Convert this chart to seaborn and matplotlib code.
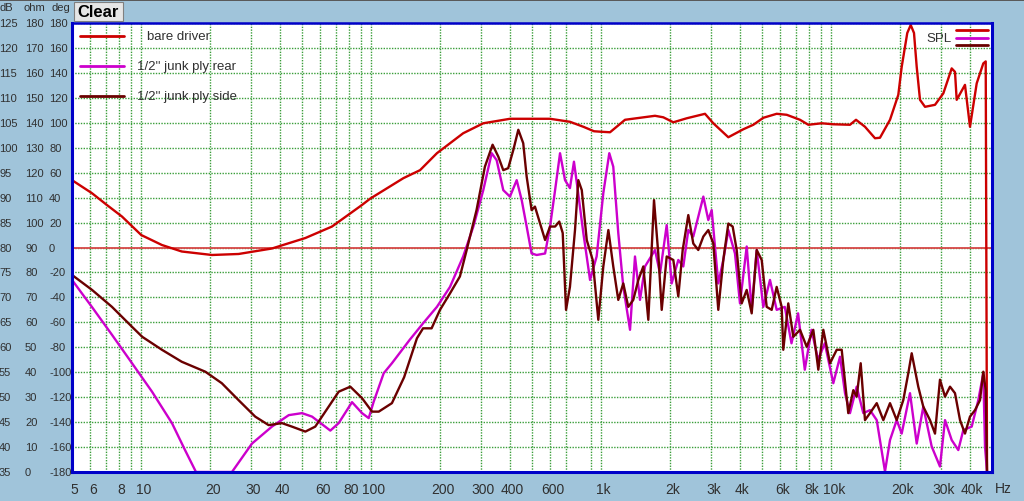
import matplotlib
matplotlib.use('Agg')
import matplotlib.pyplot as plt
import matplotlib.transforms as mtransforms
from matplotlib.patches import Rectangle
from matplotlib.lines import Line2D
import pandas as pd
import seaborn as sns

# ---------------- data ----------------
series_names = ["bare driver", "1/2'' junk ply rear", "1/2'' junk ply side"]

bare_freq = [5, 6.1, 7.1, 8.25, 10, 12.3, 15, 20.3, 26.5, 37, 51.7, 67.5, 91, 99,
             138, 163, 193, 251, 307, 401, 599, 731, 836, 930, 1000, 1092, 1269,
             1474, 1713, 1861, 2058, 2353, 2826, 3071, 3569, 4147, 4584, 5066, 5791,
             6403, 7315, 7951, 9090, 10210, 12065, 12815, 14020, 15500, 16290, 18010,
             19570, 20245, 21410, 22160, 22900, 23530, 24320, 25570, 28260, 30720,
             33400, 34520, 35110, 38150, 40110, 42900, 45830, 46950, 47570]
bare_db = [93.5, 90.9, 88.5, 86.2, 82.5, 80.5, 79.2, 78.5, 78.7, 79.8, 81.9, 84.2, 88.5, 89.8,
           93.9, 95.5, 98.9, 102.9, 104.9, 105.8, 105.8, 105.2, 104.2, 103.3, 103.2, 103.1, 105.6,
           106.0, 106.4, 106.1, 105.1, 105.9, 106.8, 104.9, 102.1, 103.7, 104.6, 106.0, 106.8,
           106.6, 105.6, 104.6, 104.9, 104.7, 104.6, 105.6, 104.2, 101.9, 102.0, 105.6,
           110.6, 116.2, 123.0, 124.6, 123.0, 116.2, 109.6, 108.2, 108.6, 110.9,
           115.9, 115.2, 109.6, 112.6, 104.2, 112.9, 116.9, 117.3, 35]

rear_freq = [5, 6.1, 7.46, 9.12, 11.14, 13.6, 15.5, 17.3, 24.8, 30.3, 37, 43.8, 50, 55.3,
             66.4, 72.2, 82.5, 91.2, 97.5, 102.5, 113.3, 123, 147, 168, 193, 220, 251, 278,
             307, 334, 351, 375, 401, 429, 451, 474, 498, 524, 570, 599, 630, 662, 696, 731,
             761, 787, 836, 894, 955, 1021, 1084, 1128, 1186, 1247, 1334, 1402, 1474, 1550,
             1713, 1801, 1926, 2024, 2163, 2274, 2391, 2513, 2779, 2921, 3022, 3228, 3394,
             3569, 3815, 4011, 4290, 4510, 4742, 5066, 5416, 5791, 6282, 6718, 7176, 7674,
             8207, 8767, 9374, 10210, 10920, 11480, 12065, 12900, 13785, 14740, 15770, 17130,
             18010, 19260, 20245, 22000, 23530, 25130, 27340, 29700, 31240, 33400, 35680,
             37510, 40810, 43590, 45830, 46620, 47570]
rear_db = [73.5, 68.1, 62.5, 56.8, 51.1, 44.8, 39.4, 35, 35, 40.7, 44.1, 46.4, 46.8, 46.1,
           43.3, 44.8, 49.0, 46.8, 45.8, 49.1, 54.8, 56.8, 61.5, 64.8, 68.1, 72.1, 78.2, 84.2,
           91.5, 98.9, 97.5, 91.5, 90.2, 93.5, 89.5, 84.2, 78.8, 78.5, 78.8, 84.2, 91.5, 98.9, 93.5, 91.9,
           97.2, 92.2, 82.9, 73.5, 78.2, 90.9, 98.9, 96.2, 82.9, 72.1, 63.5, 78.2, 69.5, 76.2,
           79.5, 74.8, 84.5, 72.8, 77.5, 76.2, 83.5, 82.2, 90.2, 85.5, 87.5, 72.8, 77.5,
           83.5, 78.8, 68.8, 80.2, 67.5, 79.5, 68.1, 73.5, 67.5, 68.1, 60.8, 66.8, 55.5,
           63.5, 57.5, 60.8, 52.8, 58.1, 50.8, 46.8, 52.1, 46.8, 47.4, 45.4, 35.1,
           41.4, 45.4, 42.7, 50.8, 40.7, 48.1, 40.1, 36.1, 45.4, 41.4, 39.4,
           43.4, 44.1, 49.4, 54.8, 40.1, 35]

side_freq = [5, 6.11, 7.46, 9.12, 10.1, 12.3, 15, 19, 22.4, 26.5, 31.3, 35.8, 40.9, 45.2,
             51.7, 57.1, 65.3, 72.2, 81.1, 91.2, 100.8, 107.8, 123, 139, 158, 168, 183, 199,
             220, 243, 260, 287, 312, 337, 357, 375, 394, 415, 436, 458, 474, 498, 515, 542,
             570, 599, 630, 657, 680, 703, 731, 769, 795, 823, 865, 918, 971, 1021, 1074,
             1128, 1186, 1247, 1311, 1378, 1450, 1524, 1602, 1696, 1770, 1832, 1926, 2058,
             2163, 2260, 2391, 2513, 2642, 2779, 2921, 3071, 3228, 3394, 3569, 3728, 3881,
             4080, 4290, 4510, 4742, 4985, 5240, 5510, 5791, 6090, 6187, 6505, 6840, 7315,
             7822, 8356, 8786, 9237, 9880, 10565, 11105, 11860, 12475, 12900, 13430, 14020,
             14740, 15770, 16845, 18010, 19260, 20570, 21630, 22380, 23900, 25130, 26880,
             28260, 29700, 31240, 32840, 34520, 36300, 38150, 40110, 42170, 44340, 45830,
             46950, 47570]
side_db = [74.5, 71.5, 68.1, 64.1, 62.1, 59.5, 57.1, 55.1, 52.8, 49.4, 46.1, 44.4, 44.8, 44.1,
           43.1, 44.1, 48.1, 51.1, 52.1, 49.8, 47.1, 47.1, 48.8, 54.0, 61.8, 63.8, 63.8, 67.5,
           70.8, 74.2, 79.5, 87.5, 96.2, 100.6, 98.2, 95.5, 95.9, 99.6, 103.6, 100.9, 94.2, 87.5, 88.2, 84.8,
           81.5, 84.2, 84.2, 85.2, 82.9, 67.5, 72.1, 83.5, 93.5, 91.5, 81.5, 77.5, 65.5, 76.2, 83.5,
           76.2, 69.5, 72.8, 68.1, 69.5, 73.5, 76.2, 65.5, 89.5, 78.8, 67.5, 78.2, 77.5,
           70.2, 79.5, 86.5, 80.8, 79.5, 82.2, 83.5, 80.8, 67.5, 77.5, 84.8, 84.2, 79.5,
           68.8, 71.5, 66.8, 79.5, 77.5, 68.1, 67.5, 72.1, 68.1, 59.5, 68.8, 62.1, 63.5,
           60.1, 63.5, 55.5, 63.5, 56.8, 59.5, 59.5, 46.8, 51.4, 50.1, 56.8, 45.4,
           46.8, 48.8, 45.4, 48.8, 45.4, 49.4, 54.8, 58.8, 52.1, 48.1, 45.4,
           42.7, 53.5, 50.1, 52.1, 50.8, 45.4, 42.7, 46.1, 47.4, 49.4, 55.1,
           51.4, 35]

x_tick_values = [5, 6, 8, 10, 20, 30, 40, 60, 80, 100, 200, 300, 400, 600, 1000, 2000,
                 3000, 4000, 6000, 8000, 10000, 20000, 30000, 40000]
x_tick_labels = ["5", "6", "8", "10", "20", "30", "40", "60", "80", "100", "200", "300",
                 "400", "600", "1k", "2k", "3k", "4k", "6k", "8k", "10k", "20k", "30k", "40k"]
x_minor_values = [7, 9, 50, 70, 90, 500, 700, 900, 5000, 7000, 9000]

db_ticks = list(range(35, 126, 5))
ohm_ticks = list(range(0, 181, 10))
deg_ticks = list(range(-180, 181, 20))

# ---------------- style ----------------
BG = '#a0c4da'
TXT = '#303030'
GRID = '#3a9e3a'
SPINE = '#0000c8'
colors = {series_names[0]: '#cc0000', series_names[1]: '#cc00cc', series_names[2]: '#6a0000'}

sns.set_style('white')
plt.rcParams['font.family'] = ['Liberation Sans', 'DejaVu Sans']

df = pd.concat([
    pd.DataFrame({'freq': bare_freq, 'dB': bare_db, 'series': series_names[0]}),
    pd.DataFrame({'freq': rear_freq, 'dB': rear_db, 'series': series_names[1]}),
    pd.DataFrame({'freq': side_freq, 'dB': side_db, 'series': series_names[2]}),
], ignore_index=True)

W, H = 1024, 502
fig = plt.figure(figsize=(W / 100, H / 100), dpi=100, facecolor=BG)


def fx(px):
    return px / W


def fy(py):
    return 1 - py / H


ax = fig.add_axes([fx(72), fy(473), (992 - 72) / W, (473 - 24) / H])
ax.set_facecolor('white')
ax.set_xscale('log')

ax.axhline(80, color='#d84848', lw=1.3, zorder=1.5)

sns.lineplot(data=df, x='freq', y='dB', hue='series', hue_order=series_names,
             palette=colors, estimator=None, sort=False, units='series',
             linewidth=1.7, legend=False, ax=ax, zorder=3)

ax.set_xlim(5, 50000)
ax.set_ylim(35, 125)
ax.set_xlabel('')
ax.set_ylabel('')

ax.set_xticks(x_tick_values)
ax.set_xticklabels(x_tick_labels)
ax.set_xticks(x_minor_values, minor=True)
ax.set_xticklabels([], minor=True)
ax.set_yticks(db_ticks)
ax.set_yticklabels([])
ax.grid(True, which='both', axis='x', color=GRID, linestyle=(0, (1, 1)), linewidth=1.0)
ax.grid(True, which='major', axis='y', color=GRID, linestyle=(0, (1, 1)), linewidth=1.0)
ax.set_axisbelow(True)
ax.tick_params(which='both', length=0)
ax.tick_params(axis='x', labelsize=10, colors=TXT, pad=7)
for lab in ax.get_xticklabels():
    lab.set_transform(lab.get_transform() + mtransforms.ScaledTranslation(0.025, 0, fig.dpi_scale_trans))

for name, s in ax.spines.items():
    s.set_color(SPINE)
    s.set_linewidth(2.2 if name in ('left', 'bottom', 'right') else 1.8)
    s.set_zorder(5)

# y-axis label columns (dB / ohm / deg)
trans = mtransforms.blended_transform_factory(fig.transFigure, ax.transData)
for d, o, g in zip(db_ticks, ohm_ticks, deg_ticks):
    fig.text(fx(-1), d, str(d), transform=trans, ha='left', va='center', fontsize=8, color=TXT)
    fig.text(fx(25), d, str(o), transform=trans, ha='left', va='center', fontsize=8, color=TXT)
    fig.text(fx(49), d, str(g), transform=trans, ha='left', va='center', fontsize=8, color=TXT)
fig.text(fx(0), fy(8), 'dB', ha='left', va='center', fontsize=8, color=TXT)
fig.text(fx(24), fy(8), 'ohm', ha='left', va='center', fontsize=8, color=TXT)
fig.text(fx(51), fy(8), 'deg', ha='left', va='center', fontsize=8, color=TXT)

# top strip and "Clear" button
fig.add_artist(Rectangle((0, fy(2)), 1, fy(0) - fy(2), transform=fig.transFigure,
                         facecolor='#5a5a5a', edgecolor='none'))
fig.add_artist(Rectangle((fx(74), fy(22)), fx(123) - fx(74), fy(3) - fy(22), transform=fig.transFigure,
                         facecolor='#e6e6e6', edgecolor='#808080', linewidth=0.8))
fig.text(fx(98.5), fy(12.5), 'Clear', ha='center', va='center', fontsize=12,
         fontweight='bold', color='black')

# legend (upper left)
leg_y = [37, 67, 97]
leg_x_text = [147, 137, 137]
for name, yy, xt in zip(series_names, leg_y, leg_x_text):
    fig.add_artist(Line2D([fx(80), fx(124)], [fy(yy), fy(yy)], color=colors[name], lw=2.0,
                          transform=fig.transFigure))
    fig.text(fx(xt), fy(yy), name, ha='left', va='center', fontsize=9.5, color=TXT)

# SPL marker (upper right)
fig.text(fx(926), fy(39), 'SPL', ha='left', va='center', fontsize=9.5, color=TXT)
for name, yy in zip(series_names, [31, 39, 46]):
    fig.add_artist(Line2D([fx(956), fx(988)], [fy(yy), fy(yy)], color=colors[name], lw=2.0,
                          transform=fig.transFigure))

fig.text(fx(995), fy(489), 'Hz', ha='left', va='center', fontsize=10, color=TXT)

fig.savefig('out.png', dpi=100, facecolor=BG)
